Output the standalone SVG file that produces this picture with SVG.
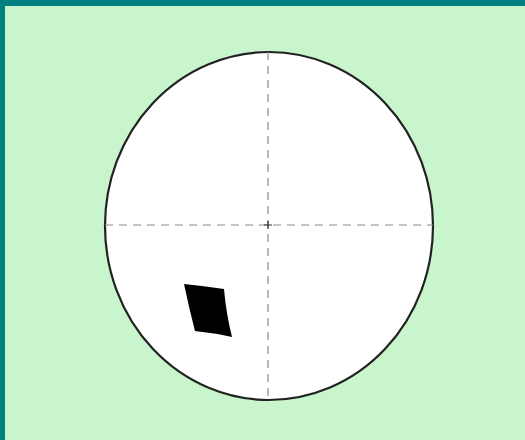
<svg xmlns="http://www.w3.org/2000/svg" width="525" height="440" viewBox="0 0 525 440">
<style>
.axis{stroke:#8a8a8a;stroke-width:1.2;stroke-dasharray:8 6;fill:none}
</style>
<rect x="0" y="0" width="525" height="440" fill="#c9f5cd"/>
<rect x="0" y="0" width="525" height="6" fill="#008080"/>
<rect x="0" y="0" width="5" height="440" fill="#008080"/>
<g id="circle">
<ellipse cx="269" cy="226" rx="164" ry="174" fill="#ffffff" stroke="#222" stroke-width="2.2"/>
</g>
<g id="axes">
<line class="axis" x1="105" y1="225" x2="433" y2="225"/>
<line class="axis" x1="268" y1="52" x2="268" y2="400"/>
<path d="M264 225 H272 M268 221 V229" stroke="#333" stroke-width="1.2"/>
</g>
<g id="patch">
<path d="M184 284 Q204 286 224 289 Q226 313 232 337 Q214 333 195 331 Q189 308 184 284 Z" fill="#000"/>
</g>
</svg>
